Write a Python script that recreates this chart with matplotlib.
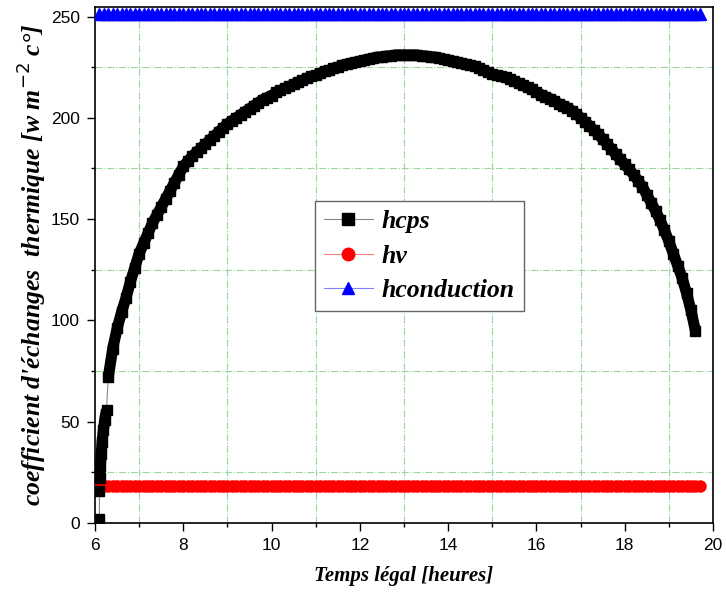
"""Heat exchange coefficients over the day (hcps, hv, hconduction)."""

import numpy as np
import matplotlib
matplotlib.use("Agg")
import matplotlib.pyplot as plt
from matplotlib.lines import Line2D
from matplotlib.ticker import MultipleLocator

# ---------------------------------------------------------------------------
# Data
# ---------------------------------------------------------------------------

# hcps: sunrise segment, then the main arc (0.1 h steps from 6.3 h)
HCPS_EARLY_T = [6.10, 6.10, 6.11, 6.12, 6.14, 6.16, 6.19, 6.22, 6.26]
HCPS_EARLY_V = [2, 16, 22, 28, 34, 40, 46, 51, 56]

HCPS_T0 = 6.3
HCPS_V = [
    72, 86, 96, 104, 111, 119, 126, 133, 138, 143,            # 6.3 - 7.2
    148, 152, 156, 160, 164, 168, 172, 176, 178.5, 181,       # 7.3 - 8.2
    183, 185, 187, 189, 191, 193, 195, 197, 198.5, 200,       # 8.3 - 9.2
    201.5, 203, 204.5, 206, 207.5, 209, 210, 211, 212.5, 213.5,  # 9.3 - 10.2
    214.5, 215.5, 216.5, 217.5, 218.5, 219.5, 220.5, 221, 222, 223,  # 10.3 - 11.2
    223.5, 224.5, 225, 226, 226.5, 227, 227.5, 228, 228.5, 229,  # 11.3 - 12.2
    229.5, 230, 230, 230.5, 230.5, 231, 231, 231, 231, 231,   # 12.3 - 13.2
    231, 230.5, 230.5, 230, 230, 229.5, 229, 228.5, 228, 227.5,  # 13.3 - 14.2
    227, 226.5, 226, 225.5, 224.5, 223.5, 222.5, 221.5, 221, 220.5,  # 14.3 - 15.2
    220, 219, 218, 217, 216, 215, 214, 212.5, 211.5, 210.5,   # 15.3 - 16.2
    209.5, 208.5, 207, 206, 205, 203.5, 202, 200, 198, 196,   # 16.3 - 17.2
    194, 192, 189.5, 187, 184.5, 182, 179.5, 177, 174.5, 172,  # 17.3 - 18.2
    169, 166, 162, 158, 154, 149.5, 144.5, 139, 133, 127,     # 18.3 - 19.2
    121, 113.5, 105, 95,                                      # 19.3 - 19.6
]

# hv and hconduction stay flat all day
FLAT_T_START, FLAT_T_END = 6.1, 19.7
HV_LEVEL = 18.5
HCOND_LEVEL = 251

# ---------------------------------------------------------------------------
# Plot
# ---------------------------------------------------------------------------

hcps_main_t = HCPS_T0 + 0.1 * np.arange(len(HCPS_V))
hcps_t = np.concatenate([HCPS_EARLY_T, hcps_main_t])
hcps_v = np.concatenate([HCPS_EARLY_V, HCPS_V])

flat_t = np.linspace(FLAT_T_START, FLAT_T_END, 137)
hv = np.full_like(flat_t, HV_LEVEL)
hcond = np.full_like(flat_t, HCOND_LEVEL)

plt.rcParams["font.family"] = ["Liberation Sans", "DejaVu Sans"]

fig = plt.figure(figsize=(7.26, 6.07), dpi=100)
ax = fig.add_axes([0.1309, 0.1384, 0.8512, 0.8501])

# hcps: thin grey connector, dense black band of squares on top
ax.plot(hcps_t, hcps_v, color="#888888", linewidth=0.8, zorder=2)
ax.plot(HCPS_EARLY_T[1:], HCPS_EARLY_V[1:], color="black", linewidth=8,
        solid_capstyle="butt", zorder=3)
ax.plot(hcps_main_t, HCPS_V, color="black", linewidth=8,
        solid_capstyle="butt", zorder=3)
ax.plot(hcps_t, hcps_v, linestyle="none", marker="s", markersize=6.5,
        color="black", zorder=4)

ax.plot(flat_t, hv, color="#ff8080", linewidth=0.8,
        marker="o", markersize=8, markerfacecolor="red",
        markeredgecolor="red", zorder=3)
ax.plot(flat_t, hcond, color="#8080ff", linewidth=0.8,
        marker="^", markersize=8, markerfacecolor="blue",
        markeredgecolor="blue", zorder=3)

ax.set_xlim(6, 20)
ax.set_ylim(0, 254.7)
ax.xaxis.set_major_locator(MultipleLocator(2))
ax.xaxis.set_minor_locator(MultipleLocator(1))
ax.yaxis.set_major_locator(MultipleLocator(50))
ax.yaxis.set_minor_locator(MultipleLocator(25))
ax.tick_params(which="major", direction="out", length=6, width=1,
               labelsize=12.5, pad=5, top=False, right=False)
ax.tick_params(which="minor", direction="out", length=3, width=1,
               top=False, right=False)

# grid sits on the minor ticks (odd hours, 25/75/125...)
ax.grid(which="minor", color="#9ad89a", linestyle="-.", linewidth=0.8)
ax.grid(which="major", visible=False)
ax.set_axisbelow(True)

for sp in ax.spines.values():
    sp.set_linewidth(1.2)

serif_bi = dict(family=["Liberation Serif", "DejaVu Serif"],
                style="italic", weight="bold")
ax.set_xlabel("Temps légal [heures]", labelpad=9, size=15, **serif_bi)
ax.set_ylabel("coefficient d'échanges  thermique [w m$^{-2}$ c°]",
              labelpad=2, size=18.5, **serif_bi)

handles = [
    Line2D([], [], color="#888888", linewidth=0.8, marker="s",
           markersize=8, markerfacecolor="black", markeredgecolor="black"),
    Line2D([], [], color="#ff8080", linewidth=0.8, marker="o",
           markersize=9, markerfacecolor="red", markeredgecolor="red"),
    Line2D([], [], color="#8080ff", linewidth=0.8, marker="^",
           markersize=9, markerfacecolor="blue", markeredgecolor="blue"),
]
leg = ax.legend(handles, ["hcps", "hv", "hconduction"],
                loc="upper left", bbox_to_anchor=(0.356, 0.624),
                frameon=True, fancybox=False, framealpha=1,
                handlelength=1.9, handletextpad=0.35,
                borderpad=0.35, labelspacing=0.45, borderaxespad=0,
                prop=dict(size=18.5, **serif_bi))
leg.get_frame().set_edgecolor("#666666")
leg.get_frame().set_linewidth(1.0)

fig.savefig("out.png", dpi=100)
